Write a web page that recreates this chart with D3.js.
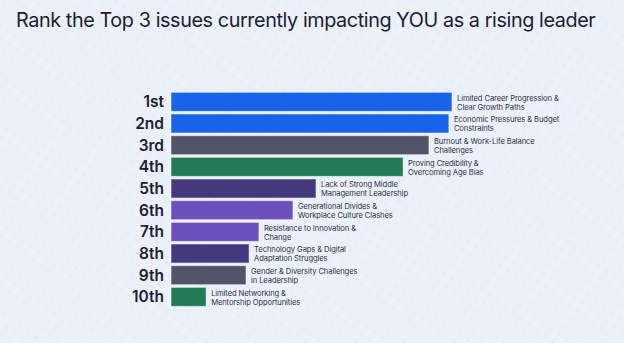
<!DOCTYPE html>
<html>
<head>
<meta charset="utf-8">
<script src="https://cdn.jsdelivr.net/npm/d3@7"></script>
<style>
  html, body { margin: 0; padding: 0; background: #eaf1fa; }
  svg { display: block; }
</style>
</head>
<body>
<div id="container"></div>
<script>
const ranks = ["1st", "2nd", "3rd", "4th", "5th", "6th", "7th", "8th", "9th", "10th"];
const scores = [100, 98.9, 91.8, 82.6, 51.6, 43.4, 31.3, 27.8, 26.7, 12.5];
const issues = [
    ["Limited Career Progression &", "Clear Growth Paths"],
    ["Economic Pressures & Budget", "Constraints"],
    ["Burnout & Work-Life Balance", "Challenges"],
    ["Proving Credibility &", "Overcoming Age Bias"],
    ["Lack of Strong Middle", "Management Leadership"],
    ["Generational Divides &", "Workplace Culture Clashes"],
    ["Resistance to Innovation &", "Change"],
    ["Technology Gaps & Digital", "Adaptation Struggles"],
    ["Gender & Diversity Challenges", "in Leadership"],
    ["Limited Networking &", "Mentorship Opportunities"]
];
const barColors = ["#1764ea", "#1764ea", "#50566a", "#237b55", "#43397c",
    "#6d50bc", "#6d50bc", "#43397c", "#50566a", "#237b55"];

const width = 624, height = 343;

const svg = d3.select("#container")
    .append("svg")
    .attr("width", width)
    .attr("height", height);

// faint dotted backdrop
const defs = svg.append("defs");
const pat = defs.append("pattern")
    .attr("id", "dots")
    .attr("width", 14)
    .attr("height", 14)
    .attr("patternUnits", "userSpaceOnUse")
    .attr("patternTransform", "rotate(-8)");
pat.append("circle").attr("cx", 3).attr("cy", 3).attr("r", 0.7).attr("fill", "#d3deee");
pat.append("circle").attr("cx", 10).attr("cy", 10).attr("r", 0.7).attr("fill", "#d3deee");

svg.append("rect").attr("width", width).attr("height", height).attr("fill", "#eaf1fa");
svg.append("rect").attr("width", width).attr("height", height).attr("fill", "url(#dots)");

svg.append("text")
    .attr("x", 16)
    .attr("y", 27)
    .attr("font-family", "Inter, 'Noto Sans', sans-serif")
    .attr("font-size", 19.8)
    .attr("fill", "#1d2030")
    .attr("letter-spacing", -0.4)
    .text("Rank the Top 3 issues currently impacting YOU as a rising leader");

const x = d3.scaleLinear().domain([0, 100]).range([171, 452]);
const y = d3.scaleBand().domain(ranks).range([91, 307.7]).paddingInner(0.12).paddingOuter(0.06);

const yAxis = svg.append("g")
    .attr("transform", "translate(164,0)")
    .call(d3.axisLeft(y).tickSize(0).tickPadding(0));
yAxis.select(".domain").remove();
yAxis.selectAll("text")
    .attr("font-family", "Inter, 'Noto Sans', sans-serif")
    .attr("font-size", 15.5)
    .attr("font-weight", 600)
    .attr("fill", "#1d2030")
    .attr("dy", "0.36em");

const rows = svg.append("g")
    .selectAll("g")
    .data(ranks)
    .join("g");

rows.append("rect")
    .attr("x", x(0))
    .attr("y", d => y(d))
    .attr("width", (d, i) => x(scores[i]) - x(0))
    .attr("height", y.bandwidth())
    .attr("fill", (d, i) => barColors[i])
    .attr("stroke", "#ffffff")
    .attr("stroke-opacity", 0.55)
    .attr("stroke-width", 1);

const label = rows.append("text")
    .attr("font-family", "Inter, 'Noto Sans', sans-serif")
    .attr("font-size", 7.6)
    .attr("fill", "#2f3245")
    .attr("letter-spacing", -0.1);
label.selectAll("tspan")
    .data((d, i) => issues[i].map(t => ({t, i})))
    .join("tspan")
    .attr("x", d => x(scores[d.i]) + 5)
    .attr("y", (d, j) => y(ranks[d.i]) + 8.3 + j * 9)
    .text(d => d.t);
</script>
</body>
</html>
